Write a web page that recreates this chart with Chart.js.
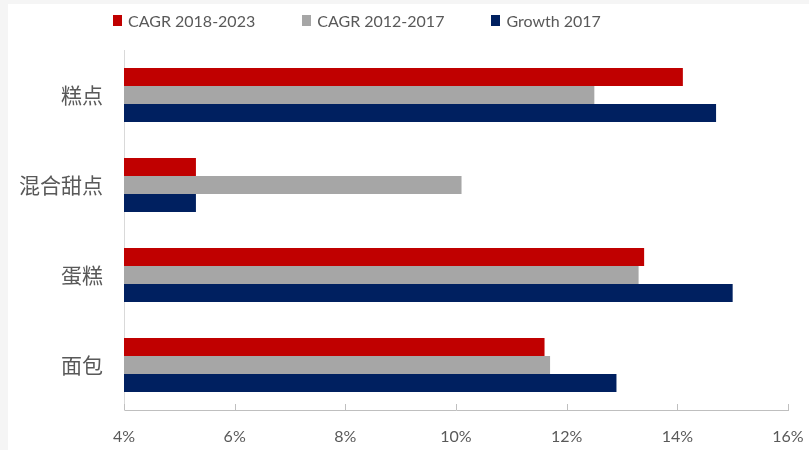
<!DOCTYPE html>
<html lang="zh">
<head>
<meta charset="UTF-8">
<script src="https://cdn.jsdelivr.net/npm/chart.js"></script>
<title>CAGR</title>
<style>
    body { margin: 0; background: #f5f5f5; }
    #wrap { position: absolute; left: 8px; top: 4px; width: 801px; height: 446px; background: #fff; }
    #legend { position: absolute; left: 105px; top: 7px; display: flex; gap: 47px;
              font-family: Lato, "Liberation Sans", sans-serif; font-size: 16px; color: #595959; }
    #legend span.item { display: flex; align-items: center; }
    #legend i { display: inline-block; width: 9px; height: 11px; margin-right: 6px; }
    canvas { position: absolute; left: 0; top: 0; }
</style>
</head>
<body>
<div id="wrap">
    <canvas id="grafico" width="801" height="446"></canvas>
    <div id="legend"></div>
</div>
<script>
const categorias = ['糕点', '混合甜点', '蛋糕', '面包'];
const series = ['CAGR 2018-2023', 'CAGR 2012-2017', 'Growth 2017'];
const cagr_2018_2023 = [14.1, 5.3, 13.4, 11.6];
const cagr_2012_2017 = [12.5, 10.1, 13.3, 11.7];
const growth_2017 = [14.7, 5.3, 15.0, 12.9];
const colores = ['#C00000', '#A6A6A6', '#002060'];
const ticksX = [4, 6, 8, 10, 12, 14, 16];

const valores = [cagr_2018_2023, cagr_2012_2017, growth_2017];

// leyenda
const leyenda = document.getElementById('legend');
series.forEach((s, i) => {
    const item = document.createElement('span');
    item.className = 'item';
    item.innerHTML = '<i style="background:' + colores[i] + '"></i>' + s;
    leyenda.appendChild(item);
});

// marcas del eje x hacia dentro
const marcasEje = {
    id: 'marcasEje',
    afterDraw(chart) {
        const x = chart.scales.x;
        const ctx = chart.ctx;
        ctx.save();
        ctx.strokeStyle = '#bfbfbf';
        ctx.lineWidth = 1;
        x.ticks.forEach(t => {
            const px = Math.round(x.getPixelForValue(t.value)) + 0.5;
            ctx.beginPath();
            ctx.moveTo(px, x.top - 6);
            ctx.lineTo(px, x.top);
            ctx.stroke();
        });
        ctx.restore();
    }
};

new Chart(document.getElementById('grafico'), {
    type: 'bar',
    data: {
        labels: categorias,
        datasets: series.map((s, i) => ({
            label: s,
            data: valores[i],
            backgroundColor: colores[i],
            borderWidth: 0,
            categoryPercentage: 0.6,
            barPercentage: 1
        }))
    },
    options: {
        indexAxis: 'y',
        responsive: false,
        animation: false,
        layout: { padding: { top: 46, right: 21, left: 0, bottom: 0 } },
        plugins: { legend: { display: false }, tooltip: { enabled: false } },
        scales: {
            x: {
                min: ticksX[0],
                max: ticksX[ticksX.length - 1],
                afterBuildTicks: s => { s.ticks = ticksX.map(v => ({ value: v })); },
                afterFit: s => { s.height = 40; s.paddingLeft = 0; s.paddingRight = 0; },
                grid: { drawOnChartArea: false, drawTicks: false },
                border: { color: '#bfbfbf' },
                ticks: {
                    padding: 17,
                    maxRotation: 0,
                    color: '#595959',
                    font: { family: 'Lato, "Liberation Sans", sans-serif', size: 16 },
                    callback: v => v + '%'
                }
            },
            y: {
                afterFit: s => { s.width = 116; },
                grid: { drawOnChartArea: false, drawTicks: false },
                border: { color: '#d9d9d9' },
                ticks: {
                    padding: 21,
                    color: '#595959',
                    font: { family: '"Noto Sans CJK SC", sans-serif', size: 21 }
                }
            }
        }
    },
    plugins: [marcasEje]
});
</script>
</body>
</html>
